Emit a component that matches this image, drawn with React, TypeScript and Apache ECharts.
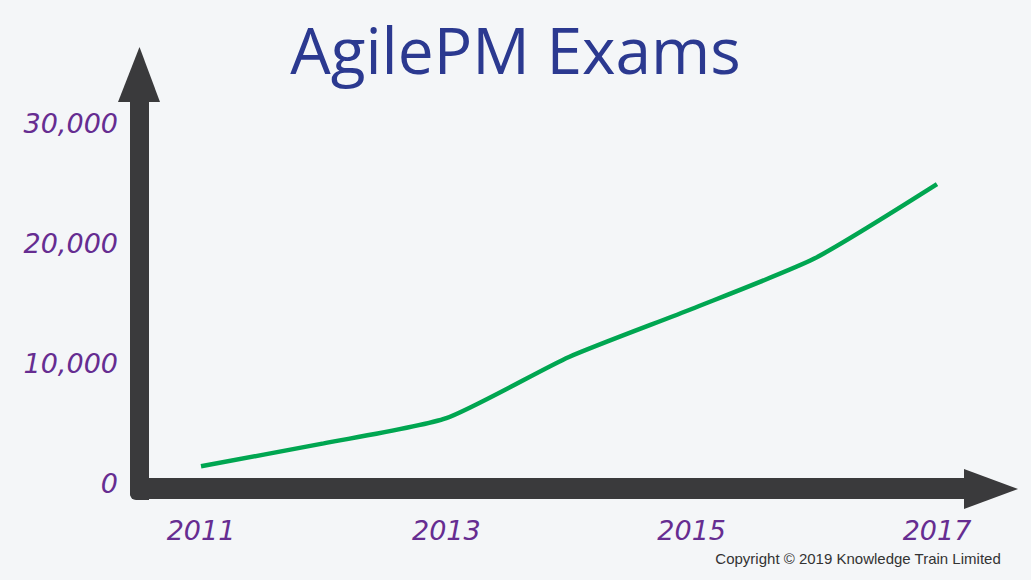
import React, { useEffect, useRef } from "react";
import * as echarts from "echarts";

const years = ["2011", "2012", "2013", "2014", "2015", "2016", "2017"];
const exams = [1400, 3300, 5400, 10500, 14500, 18700, 24900];
const yTicks = { min: 0, max: 30000, interval: 10000 };
const titleText = "AgilePM Exams";
const copyrightText = "Copyright © 2019 Knowledge Train Limited";

const AXIS_COLOR = "#3a3a3c";
const LABEL_COLOR = "#662d91";

export default function App() {
  const ref = useRef<HTMLDivElement>(null);
  useEffect(() => {
    if (!ref.current) return;
    const chart = echarts.init(ref.current, undefined, { renderer: "svg" });
    chart.setOption({
      animation: false,
      backgroundColor: "#f4f6f8",
      title: {
        text: titleText,
        left: "center",
        top: 12,
        textStyle: {
          fontFamily: "Open Sans",
          fontWeight: "normal",
          fontSize: 64,
          color: "#2b3990",
        },
      },
      graphic: [
        { type: "rect", shape: { x: 130, y: 100, width: 19, height: 400, r: [0, 0, 0, 6] }, style: { fill: AXIS_COLOR } },
        { type: "rect", shape: { x: 130, y: 478, width: 836, height: 21, r: [0, 0, 0, 6] }, style: { fill: AXIS_COLOR } },
        { type: "polygon", shape: { points: [[118, 102], [160, 102], [139.5, 47]] }, style: { fill: AXIS_COLOR } },
        { type: "polygon", shape: { points: [[964, 469], [964, 509], [1018, 489]] }, style: { fill: AXIS_COLOR } },
        {
          type: "text",
          right: 30,
          top: 551,
          style: { text: copyrightText, fontFamily: "Liberation Sans", fontSize: 15, fill: "#333333" },
        },
      ],
      grid: { left: 201, right: 94, top: 123, bottom: 97 },
      xAxis: {
        type: "category",
        data: years,
        boundaryGap: false,
        axisLine: { show: false },
        axisTick: { show: false },
        splitLine: { show: false },
        axisLabel: {
          interval: 1,
          margin: 34,
          color: LABEL_COLOR,
          fontFamily: "DejaVu Sans",
          fontStyle: "italic",
          fontSize: 27,
        },
      },
      yAxis: {
        type: "value",
        min: yTicks.min,
        max: yTicks.max,
        interval: yTicks.interval,
        axisLine: { show: false },
        axisTick: { show: false },
        splitLine: { show: false },
        axisLabel: {
          margin: 83,
          color: LABEL_COLOR,
          fontFamily: "DejaVu Sans",
          fontStyle: "italic",
          fontSize: 27,
          formatter: (v: number) => v.toLocaleString("en-US"),
        },
      },
      series: [
        {
          type: "line",
          data: exams,
          smooth: 0.2,
          symbol: "none",
          lineStyle: { color: "#00a651", width: 4.5 },
        },
      ],
    });
    return () => chart.dispose();
  }, []);
  return (
    <div
      ref={ref}
      style={{ position: "fixed", left: 0, top: 0, width: 1031, height: 580 }}
    />
  );
}
